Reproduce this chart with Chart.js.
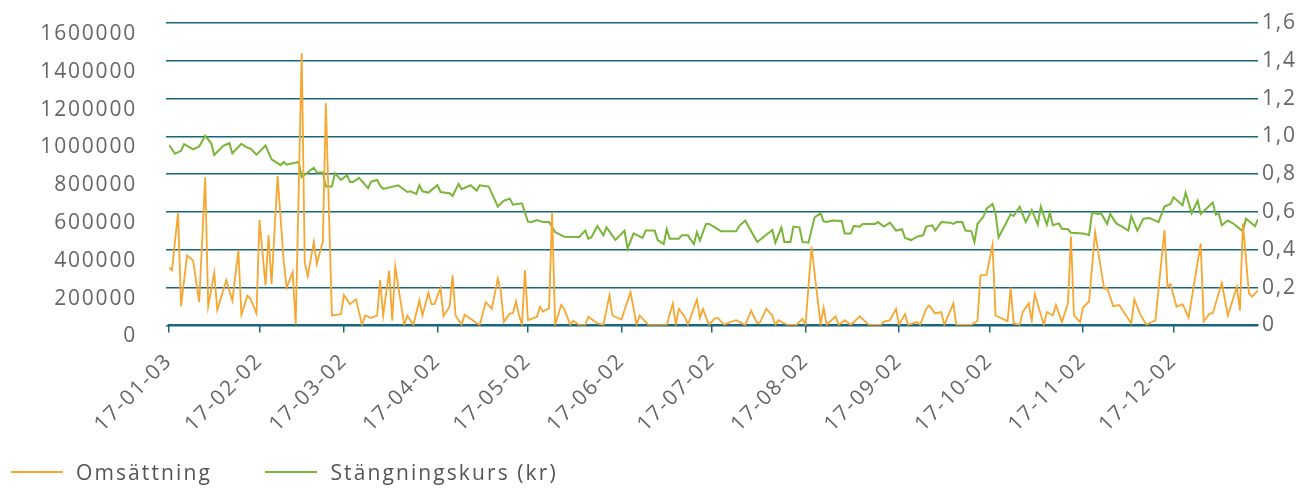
<!DOCTYPE html>
<html>
<head>
<meta charset="utf-8">
<script src="https://cdn.jsdelivr.net/npm/chart.js@4"></script>
<style>
  body { margin: 0; background: #fff; }
  #wrap { position: relative; width: 1298px; height: 488px; }
  #legend { position: absolute; left: 11px; top: 456px; font: 21px "Open Sans", sans-serif; letter-spacing: 2.1px; color: #555; }
  #legend span { display: inline-block; vertical-align: middle; }
  .swatch { width: 52px; height: 2px; margin-right: 13px; }
  .item { margin-right: 46px; }
</style>
</head>
<body>
<div id="wrap">
  <canvas id="chart" width="1298" height="488"></canvas>
  <div id="legend">
    <span class="swatch" style="background:#f7a630"></span><span class="item">Omsättning</span>
    <span class="swatch" style="background:#79b538"></span><span>Stängningskurs (kr)</span>
  </div>
</div>
<script>
// days counted from 2017-01-03
const tickDays = [0, 30, 58, 89, 119, 150, 180, 211, 242, 272, 303, 333];
const tickLabels = ['17-01-03', '17-02-02', '17-03-02', '17-04-02', '17-05-02', '17-06-02',
  '17-07-02', '17-08-02', '17-09-02', '17-10-02', '17-11-02', '17-12-02'];

// Omsättning (left axis)
const omsDays = [0, 1, 3, 4, 6, 8, 10, 12, 13, 15, 16, 19, 21, 23, 24, 26, 27, 29, 30, 32, 33, 34, 36, 38, 39, 41, 42, 44, 45, 46, 48, 49, 51, 52, 54, 57, 58, 60, 62, 64, 65, 67, 69, 70, 71, 73, 74, 75, 76, 78, 79, 81, 83, 84, 86, 87, 88, 90, 91, 93,
  94, 95, 97, 98, 103, 105, 107, 109, 110, 111, 113, 114, 115, 116, 117, 118, 119, 122, 123, 124, 126, 127, 128, 130, 131, 133, 134, 136, 138, 139, 142, 144, 146, 147, 150, 153, 155, 156, 159, 165, 167, 168, 169, 171, 172, 175, 176, 177, 179, 181, 182, 184, 186,
  188, 191, 193, 195, 196, 198, 200, 201, 202, 205, 208, 210, 211, 213, 216, 217, 218, 221, 222, 224, 226, 229, 232, 236, 237, 239, 241, 242, 244, 245, 248, 249, 251, 252, 254, 256, 257, 260, 261, 266, 268, 269, 271, 273, 274,
  278, 279, 280, 282, 283, 285, 286, 287, 290, 291, 293, 294, 296, 298, 299, 300, 302, 303, 305, 307, 310, 311, 313, 315, 319, 320, 322, 324, 327, 330, 331, 332, 334, 336, 338, 342, 343, 345, 346, 349, 351, 354, 355, 356, 358, 359, 361];
const omsValues = [307000, 293000, 597000, 102000, 371000, 343000, 124000, 784000, 102000, 279000, 81000, 240000, 131000, 399000, 57000, 159000, 141000, 64000, 558000, 212000, 477000, 219000, 791000, 343000, 201000, 283000, 5000, 1441000, 332000, 261000,
  442000, 325000, 445000, 1176000, 53000, 60000, 162000, 113000, 138000, 3000, 53000, 39000, 53000, 240000, 53000, 290000, 25000, 314000, 205000, 3000, 53000, 3000, 134000, 53000, 173000, 113000, 113000, 198000, 50000, 99000,
  265000, 53000, 3000, 57000, 2000, 124000, 88000, 247000, 180000, 18000, 64000, 64000, 127000, 57000, 3000, 293000, 28000, 46000, 99000, 74000, 92000, 597000, 3000, 109000, 88000, 3000, 25000, 2000, 3000, 46000, 11000, 3000, 159000, 53000, 32000, 177000, 3000, 53000, 2000, 3000, 117000, 3000, 88000, 46000, 3000, 138000, 39000, 88000, 3000, 39000, 39000, 4000, 18000,
  28000, 2000, 78000, 11000, 18000, 88000, 53000, 3000, 28000, 3000, 3000, 35000, 3000, 417000, 3000, 95000, 3000, 49000, 3000, 28000, 3000, 49000, 3000, 3000, 21000, 28000, 88000, 3000, 60000, 3000, 18000, 3000, 88000, 106000, 64000, 71000, 3000, 117000, 3000, 3000, 25000, 265000, 268000, 427000, 53000,
  23000, 201000, 11000, 3000, 71000, 117000, 28000, 166000, 3000, 71000, 53000, 109000, 18000, 117000, 470000, 53000, 18000, 95000, 127000, 494000, 194000, 198000, 102000, 109000, 11000, 138000, 57000, 4000, 28000, 505000, 205000, 219000, 99000, 113000, 42000, 434000, 21000, 64000, 64000, 226000, 53000, 205000, 78000, 540000, 170000, 152000, 186000];

// Stängningskurs (right axis)
const kursDays = [0, 2, 4, 5, 8, 10, 12, 14, 15, 18, 20, 21, 24, 26, 27, 29, 32, 34, 37, 38, 39, 43, 44, 48, 49, 51, 52, 54, 55, 57, 59, 60, 61, 63, 66, 67, 69, 70, 71, 76, 79, 80, 82, 83, 84, 86, 89, 90, 93,
  94, 96, 97, 100, 102, 103, 106, 109, 111, 113, 114, 117, 119, 120, 122, 124, 126, 128, 131, 136, 138, 139, 140, 142, 144, 145, 146, 148, 151, 152, 154, 157, 158, 161, 162, 164, 165, 166, 169, 170, 172, 174, 175, 176, 178, 179, 181, 183, 186,
  188, 189, 191, 193, 195, 200, 201, 203, 204, 206, 207, 209, 210, 212, 214, 216, 217, 218, 220, 223, 224, 226, 227, 229, 230, 234, 235, 237, 239, 241, 243, 244, 246, 248, 250, 251, 253, 254, 256, 259, 260, 261, 263, 264, 266, 267, 268, 270, 271, 273, 274, 275,
  279, 280, 282, 284, 286, 288, 289, 291, 292, 293, 295, 296, 298, 299, 303, 305, 306, 308, 309, 311, 312, 314, 316, 318, 319, 321, 323, 325, 328, 330, 332, 333, 336, 337, 338, 339, 341, 342, 346, 347, 348, 349, 351, 353, 356, 357, 360, 361];
const kursValues = [0.955, 0.908, 0.924, 0.959, 0.932, 0.947, 1.003, 0.964, 0.902, 0.950, 0.964, 0.911, 0.961, 0.940, 0.936, 0.904, 0.952, 0.879, 0.848, 0.865, 0.851, 0.865, 0.784, 0.834, 0.809, 0.809, 0.735, 0.735, 0.805, 0.770, 0.795, 0.759, 0.759, 0.781, 0.726, 0.761, 0.770, 0.740, 0.722, 0.742, 0.706, 0.710, 0.696, 0.742, 0.710, 0.703, 0.742, 0.706, 0.700,
  0.685, 0.749, 0.721, 0.742, 0.713, 0.742, 0.735, 0.629, 0.660, 0.671, 0.639, 0.646, 0.549, 0.546, 0.558, 0.547, 0.547, 0.494, 0.470, 0.468, 0.502, 0.459, 0.466, 0.526, 0.477, 0.519, 0.498, 0.452, 0.502, 0.406, 0.487, 0.463, 0.502, 0.502, 0.452, 0.431, 0.509, 0.459, 0.459, 0.477, 0.477, 0.431, 0.494, 0.449, 0.537, 0.537, 0.519, 0.498, 0.498,
  0.498, 0.526, 0.555, 0.498, 0.442, 0.505, 0.438, 0.519, 0.442, 0.442, 0.523, 0.519, 0.442, 0.438, 0.572, 0.593, 0.551, 0.547, 0.555, 0.553, 0.487, 0.487, 0.526, 0.523, 0.537, 0.537, 0.547, 0.523, 0.544, 0.502, 0.509, 0.463, 0.452, 0.470, 0.477, 0.523, 0.530, 0.502, 0.547, 0.544, 0.537, 0.547, 0.547, 0.502, 0.498, 0.442, 0.537, 0.576, 0.618, 0.643, 0.593, 0.466,
  0.588, 0.579, 0.629, 0.547, 0.611, 0.533, 0.629, 0.533, 0.597, 0.530, 0.540, 0.512, 0.509, 0.491, 0.487, 0.479, 0.597, 0.590, 0.593, 0.537, 0.590, 0.540, 0.523, 0.502, 0.579, 0.502, 0.565, 0.569, 0.547, 0.629, 0.643, 0.678, 0.636, 0.703, 0.650, 0.593, 0.660, 0.590, 0.650, 0.586, 0.593, 0.530, 0.555, 0.537, 0.498, 0.565, 0.526, 0.562];

const teal = '#17667d';
const labelFont = { family: '"Open Sans", sans-serif', size: 21 };

const toPoints = (days, values) => days.map((d, i) => ({ x: d, y: values[i] }));

const spacing = {
  id: 'spacing',
  beforeUpdate(chart) { chart.ctx.letterSpacing = '1.8px'; },
  beforeDraw(chart) { chart.ctx.letterSpacing = '1.8px'; },
};

new Chart(document.getElementById('chart'), {
  type: 'line',
  data: {
    datasets: [
      {
        label: 'Omsättning',
        data: toPoints(omsDays, omsValues),
        borderColor: '#f7a630',
        borderWidth: 1.8,
        pointRadius: 0,
        tension: 0,
        yAxisID: 'y',
      },
      {
        label: 'Stängningskurs (kr)',
        data: toPoints(kursDays, kursValues),
        borderColor: '#79b538',
        borderWidth: 2,
        pointRadius: 0,
        tension: 0,
        yAxisID: 'y1',
      },
    ],
  },
  options: {
    responsive: false,
    animation: false,
    layout: { padding: { top: 23, bottom: 35 } },
    plugins: { legend: { display: false }, tooltip: { enabled: false } },
    scales: {
      x: {
        type: 'linear',
        min: 0,
        max: 361,
        afterBuildTicks: (scale) => {
          scale.ticks = tickDays.map((v) => ({ value: v }));
        },
        ticks: {
          autoSkip: false,
          minRotation: 45,
          maxRotation: 45,
          padding: 16,
          color: '#666',
          font: labelFont,
          callback: (value, index) => tickLabels[index],
        },
        grid: { drawOnChartArea: false, color: teal, lineWidth: 1.5, tickLength: 7 },
        border: { color: teal, width: 2 },
      },
      y: {
        position: 'left',
        min: 0,
        max: 1600000,
        afterFit: (scale) => {
          scale.width = 169;
          scale.paddingTop = 0;
          scale.paddingBottom = 0;
        },
        ticks: {
          stepSize: 200000,
          padding: 29,
          labelOffset: 11,
          color: '#666',
          font: labelFont,
          callback: (v) => String(v),
        },
        grid: { color: teal, lineWidth: 1.5, tickLength: 3 },
        border: { display: false },
      },
      y1: {
        position: 'right',
        min: 0,
        max: 1.6,
        afterFit: (scale) => {
          scale.width = 40;
          scale.paddingTop = 0;
          scale.paddingBottom = 0;
        },
        ticks: {
          stepSize: 0.2,
          padding: 4,
          color: '#666',
          font: labelFont,
          callback: (v) => (v === 0 ? '0' : v.toFixed(1).replace('.', ',')),
        },
        grid: { display: false, drawTicks: false },
        border: { display: false },
      },
    },
  },
  plugins: [spacing],
});
</script>
</body>
</html>
